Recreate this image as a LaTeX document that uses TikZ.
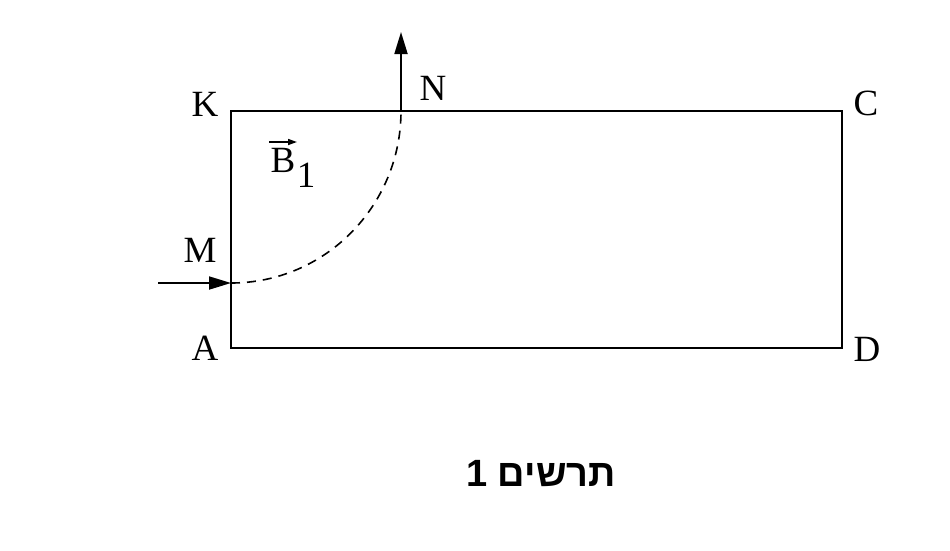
\documentclass[tikz,border=0pt]{standalone}
\usepackage{fontspec}
\setmainfont{Liberation Serif}
\newfontfamily\hebfont[Script=Hebrew]{Liberation Sans}
\TeXXeTstate=1
\usetikzlibrary{arrows.meta}
\begin{document}
\begin{tikzpicture}[x=1pt,y=-1pt,
  edge/.style={line width=1.8pt},
  arr/.style={line width=1.8pt,-{Triangle[length=22pt,width=13pt]}},
  lbl/.style={font=\fontsize{37}{40}\selectfont, inner sep=0pt}]
\useasboundingbox (0,0) rectangle (950,550);
\coordinate (A) at (231,348);
\coordinate (K) at (231,111);
\coordinate (C) at (842,111);
\coordinate (D) at (842,348);
\coordinate (M) at (231,283);
\coordinate (N) at (401,111);
\coordinate (Ntop) at (401,32);
\coordinate (Min) at (158,283);
\draw[edge] (A) -- (K) -- (C) -- (D) -- cycle;
\draw[arr] (N) -- (Ntop);
\draw[arr] (Min) -- (M);
\draw[line width=1.6pt, dash pattern=on 9pt off 7pt] (M) arc[start angle=90, end angle=0, x radius=170, y radius=172];
\node[lbl] (lK) at (205,104) {K};
\node[lbl] (lN) at (433,88) {N};
\node[lbl] (lC) at (866,103) {C};
\node[lbl] (lA) at (205,348) {A};
\node[lbl] (lD) at (867,349) {D};
\node[lbl] (lM) at (200,250) {M};
\node[lbl] (lB) at (283,160) {B};
\node[lbl] (lB1) at (306,175) {1};
\coordinate (vs) at (269,142);
\coordinate (ve) at (297,142);
\draw[line width=1.6pt,-{Triangle[length=9pt,width=6pt]}] (vs) -- (ve);
\node[inner sep=0pt, font=\hebfont\bfseries\fontsize{38}{40}\selectfont] (cap) at (541,474) {\beginR תרשים 1\endR};
\end{tikzpicture}
\end{document}
